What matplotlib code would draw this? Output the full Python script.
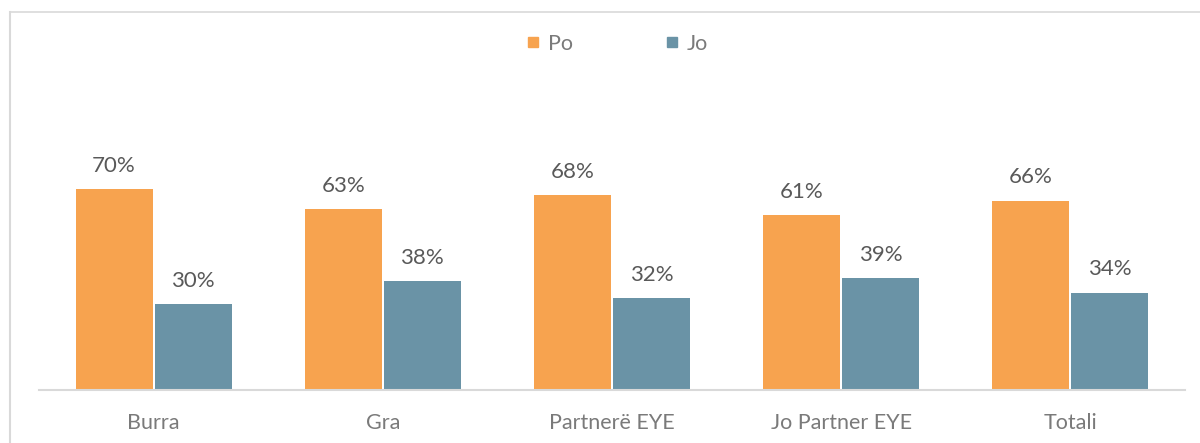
import matplotlib
matplotlib.use("Agg")
import matplotlib.pyplot as plt
from matplotlib.lines import Line2D
import numpy as np

categories = ["Burra", "Gra", "Partnerë EYE", "Jo Partner EYE", "Totali"]
series_names = ["Po", "Jo"]
po_values = [0.70, 0.63, 0.68, 0.61, 0.66]
jo_values = [0.30, 0.38, 0.32, 0.39, 0.34]

colors = ["#F7A34F", "#6A93A6"]
label_color = "#595959"
axis_text_color = "#7A7A7A"
grid_color = "#D9D9D9"

plt.rcParams['font.family'] = ['Lato', 'DejaVu Sans']

W, H = 1200, 443
fig = plt.figure(figsize=(W / 100, H / 100), dpi=100)

left_px, right_px = 39, 1185
base_px, top_px = 390, 103.3
ax = fig.add_axes([left_px / W, 1 - base_px / H, (right_px - left_px) / W, (base_px - top_px) / H])

x = np.arange(len(categories))
width = 0.336
offset = 0.1725

for vals, name, col, off in [(po_values, series_names[0], colors[0], -offset),
                             (jo_values, series_names[1], colors[1], offset)]:
    bars = ax.bar(x + off, vals, width, color=col, label=name, zorder=2)
    for b, v in zip(bars, vals):
        ax.annotate(f"{round(v * 100):d}%", (b.get_x() + b.get_width() / 2, b.get_height()),
                    xytext=(0, 12.5), textcoords="offset points",
                    ha="center", va="baseline", fontsize=16, color=label_color)

ax.set_xlim(-0.5, len(categories) - 0.5)
ax.set_ylim(0, 1.0)
ax.set_yticks([])
ax.set_xticks(x)
ax.set_xticklabels(categories, fontsize=15.5, color=axis_text_color)
ax.tick_params(axis="x", length=0, pad=16.5)
for s in ["top", "right", "left"]:
    ax.spines[s].set_visible(False)
ax.spines["bottom"].set_color(grid_color)
ax.spines["bottom"].set_linewidth(1.5)
ax.spines["bottom"].set_zorder(3)

# chart border (left and top visible in reference)
fig.add_artist(Line2D([10 / W, 10 / W], [0, 1 - 12 / H], transform=fig.transFigure,
                      color=grid_color, lw=1.5))
fig.add_artist(Line2D([10 / W, 1], [1 - 12 / H, 1 - 12 / H], transform=fig.transFigure,
                      color=grid_color, lw=1.2))

handles = [Line2D([], [], marker="s", linestyle="none", markersize=7.5,
                  markerfacecolor=c, markeredgecolor=c) for c in colors]
leg = fig.legend(handles, series_names, loc="center", bbox_to_anchor=(617.5 / W, 1 - 43.5 / H),
                 ncol=2, frameon=False, fontsize=15.5, handlelength=0.6, handletextpad=0.4,
                 columnspacing=4.3, labelcolor=axis_text_color)

fig.savefig("out.png", dpi=100)
